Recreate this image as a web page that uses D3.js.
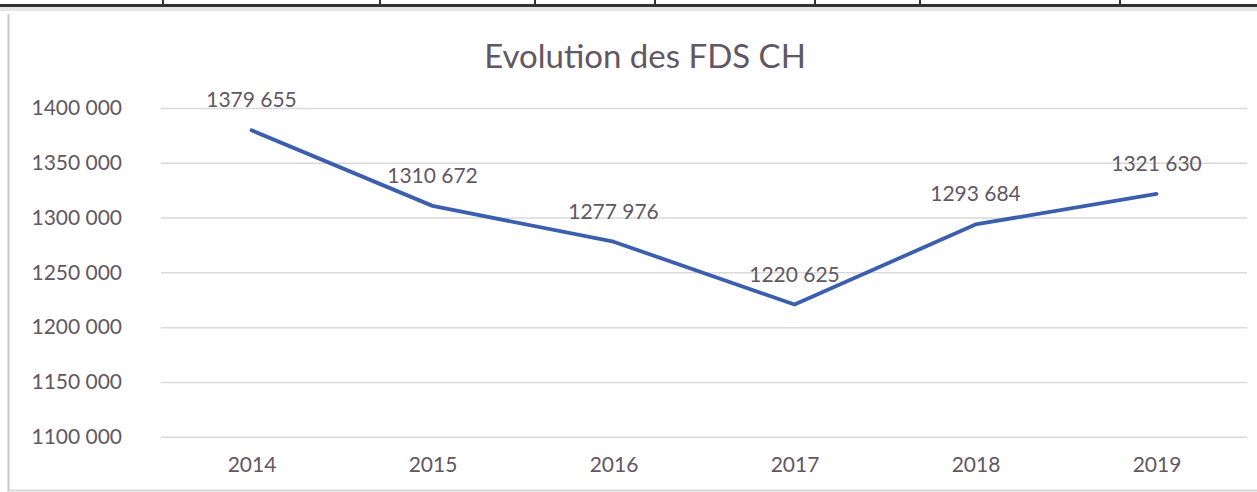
<!DOCTYPE html>
<html>
<head>
<meta charset="utf-8">
<script src="https://cdn.jsdelivr.net/npm/d3@7"></script>
<style>
  body { margin: 0; background: #fff; }
  svg { display: block; font-family: Lato, 'Open Sans', sans-serif; }
</style>
</head>
<body>
<svg width="1257" height="492"></svg>
<script>
const years = ['2014', '2015', '2016', '2017', '2018', '2019']
const fds = [1379655, 1310672, 1277976, 1220625, 1293684, 1321630]
const yTicks = [1100000, 1150000, 1200000, 1250000, 1300000, 1350000, 1400000]
const tableCols = [163, 380, 535, 655, 815, 920, 1120]

const textColor = '#625762'
// excel style: only the last group is split off, with a narrow space
const fmt = (v) => Math.floor(v / 1000) + '\u202f' + String(v % 1000).padStart(3, '0')

const svg = d3.select('svg')

// bits of the table row above the chart
svg.append('rect')
  .attr('x', 0).attr('y', 7).attr('width', 1257).attr('height', 4)
  .attr('fill', '#e6e6e6')
svg.append('line')
  .attr('x1', 0).attr('x2', 1257).attr('y1', 5.5).attr('y2', 5.5)
  .attr('stroke', '#333').attr('stroke-width', 3)
svg.selectAll('.tcol')
  .data(tableCols)
  .enter().append('line')
  .attr('class', 'tcol')
  .attr('x1', (d) => d).attr('x2', (d) => d)
  .attr('y1', 0).attr('y2', 6)
  .attr('stroke', '#333').attr('stroke-width', 2)

// chart frame
svg.append('line')
  .attr('x1', 8.5).attr('x2', 8.5).attr('y1', 14).attr('y2', 492)
  .attr('stroke', '#c8c8c8').attr('stroke-width', 2)
svg.append('line')
  .attr('x1', 8).attr('x2', 1257).attr('y1', 490.5).attr('y2', 490.5)
  .attr('stroke', '#d8d8d8').attr('stroke-width', 2)

const x = d3.scalePoint().domain(years).range([161, 1247]).padding(0.5)
const y = d3.scaleLinear().domain([1100000, 1400000]).range([436.7, 108])

// title
svg.append('text')
  .attr('x', 645).attr('y', 68)
  .attr('text-anchor', 'middle')
  .attr('fill', textColor)
  .style('font-size', '33px')
  .text('Evolution des FDS CH')

// gridlines
const grid = svg.append('g')
  .call(d3.axisLeft(y).tickValues(yTicks).tickSize(-(1247 - 161)).tickFormat(''))
  .attr('transform', 'translate(161,0)')
grid.select('.domain').remove()
grid.selectAll('.tick line').attr('stroke', '#d9d9d9').attr('stroke-width', 1.5)

// y axis labels
const yAxis = svg.append('g')
  .attr('transform', 'translate(161,0)')
  .call(d3.axisLeft(y).tickValues(yTicks).tickSize(0).tickPadding(39).tickFormat(fmt))
yAxis.select('.domain').remove()
yAxis.selectAll('text')
  .attr('fill', textColor)
  .style('font-size', '21px')
  .style('font-family', 'Lato, sans-serif')

// x axis labels
const xAxis = svg.append('g')
  .attr('transform', 'translate(0,436.7)')
  .call(d3.axisBottom(x).tickSize(0).tickPadding(20))
xAxis.select('.domain').remove()
xAxis.selectAll('text')
  .attr('fill', textColor)
  .style('font-size', '21px')
  .style('font-family', 'Lato, sans-serif')

// the line
const line = d3.line()
  .x((d, i) => x(years[i]))
  .y((d) => y(d))

svg.append('path')
  .datum(fds)
  .attr('d', line)
  .attr('fill', 'none')
  .attr('stroke', '#3b5fae')
  .attr('stroke-width', 3.8)
  .attr('stroke-linejoin', 'round')
  .attr('stroke-linecap', 'round')

// data labels
svg.selectAll('.dlabel')
  .data(fds)
  .enter().append('text')
  .attr('class', 'dlabel')
  .attr('x', (d, i) => x(years[i]))
  .attr('y', (d) => y(d) - 23)
  .attr('text-anchor', 'middle')
  .attr('fill', textColor)
  .style('font-size', '21px')
  .text((d) => fmt(d))
</script>
</body>
</html>
